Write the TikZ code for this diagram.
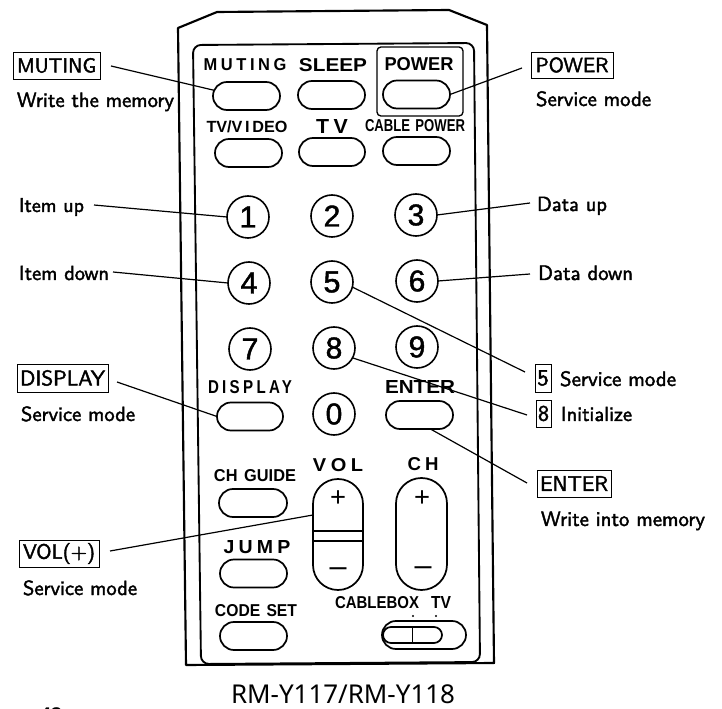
\documentclass[tikz,border=0pt]{standalone}
\usepackage{fontspec}
\usepackage{graphicx}
\usetikzlibrary{shapes.misc}
\setmainfont{Liberation Sans}
\newfontfamily\labf[FakeBold=2]{Latin Modern Sans}
\newfontfamily\btnb{Liberation Sans Bold}
\newfontfamily\btnsp[LetterSpace=22]{Liberation Sans Bold}
\newfontfamily\digf[FakeBold=1.4]{Liberation Sans}
\newfontfamily\capf{Noto Sans}
\newdimen\pxu \pxu=0.75pt
\newcommand{\fitw}[2]{\resizebox{#1\pxu}{!}{#2}}
\newcommand{\fith}[2]{\resizebox{!}{#1\pxu}{#2}}
\newcommand{\fitwh}[3]{\resizebox{#1\pxu}{#2\pxu}{#3}}
\tikzset{
  pxgrid/.style={x=0.75pt,y=-0.75pt},
  pill/.style={draw=black,rounded rectangle,line width=1.3pt,inner sep=0pt,outer sep=0pt,minimum width=#1*\pxu,minimum height=28*\pxu},
  keyc/.style={draw=black,circle,line width=1.2pt,inner sep=0pt,outer sep=0pt,minimum size=42*\pxu},
  btxt/.style={inner sep=0pt,outer sep=0pt,text=black,anchor=center},
  lab/.style={inner sep=0pt,outer sep=0pt,text=black,anchor=base west},
  lbox/.style={draw=black,line width=0.7pt,inner sep=0pt,outer sep=0pt,text=black,align=center},
  conn/.style={draw=black,line width=0.9pt},
  shell/.style={draw=black,line width=1.6pt,line join=round},
  rocker/.style={draw=black,rounded rectangle,rotate=90,line width=1.3pt,inner sep=0pt,outer sep=0pt},
}
\begin{document}
\begin{tikzpicture}[pxgrid]
\useasboundingbox (0,0) rectangle (722,709);
\clip (0,0) rectangle (722,709);
% body
\draw[shell] (178,28) -- (217,12) -- (449,10) -- (487,25) -- (494,663) -- (186,665) -- cycle;
\draw[shell,line width=1.4pt,rounded corners=6pt,fill=white] (193,45) -- (474,43) -- (480,662) -- (201,664) -- cycle;
\node[draw=black,line width=1pt,rounded corners=3pt,inner sep=0pt,outer sep=0pt,minimum width=86*\pxu,minimum height=69*\pxu] (powerbox) at (420,81.5) {};
% button labels
\node[btxt] (tmuting) at (245,65) {\fitwh{83}{12}{\btnsp MUTING}};
\node[btxt] (tsleep) at (333,65.5) {\fitwh{68}{13}{\btnb SLEEP}};
\node[btxt] (tpower) at (419,64) {\fitwh{69}{13}{\btnb POWER}};
\node[btxt] (ttvv) at (247,127) {\fitw{81}{\btnb TV/V\,I\,DEO}};
\node[btxt] (ttv) at (332,127) {\fitwh{32}{14}{\btnsp TV}};
\node[btxt] (tcable) at (415,126) {\fitwh{100}{12}{\btnb CABLE\hspace{0.4em}POWER}};
\node[btxt] (tdisplay) at (250,387) {\fitwh{84}{13}{\btnsp DISPLAY}};
\node[btxt] (tenter) at (420,387) {\fitwh{70}{13}{\btnb ENTER}};
\node[btxt] (tguide) at (255,476) {\fitwh{82}{12}{\btnb CH\hspace{0.4em}GUIDE}};
\node[btxt] (tvol) at (338,465) {\fitwh{50}{13}{\btnsp VOL}};
\node[btxt] (tch) at (423,464) {\fitwh{31}{13}{\btnsp CH}};
\node[btxt] (tjump) at (257,547) {\fitwh{67}{13}{\btnsp JUMP}};
\node[btxt] (tcode) at (256,611) {\fitwh{82}{12}{\btnb CODE\hspace{0.4em}SET}};
\node[btxt] (tbox) at (377,603) {\fitwh{84}{12}{\btnb CABLEBOX}};
\node[btxt] (ttvs) at (441,602) {\fitwh{20}{12}{\btnb TV}};
% pills
\node[pill=67] (bmuting) at (246.5,96) {};
\node[pill=67] (bsleep) at (331.5,95) {};
\node[pill=67] (bpower) at (416.5,94.5) {};
\node[pill=67] (btvv) at (248.5,153) {};
\node[pill=66] (btv) at (332,152) {};
\node[pill=67] (bcable) at (416.5,151) {};
\node[pill=66] (bdisplay) at (250,416.5) {};
\node[pill=67] (benter) at (419.5,415) {};
\node[pill=68] (bguide) at (253,503) {};
\node[pill=67] (bjump) at (253.5,573.5) {};
\node[pill=67] (bcode) at (253.5,636) {};
% number keys
\node[keyc] (k1) at (248,217) {\fith{21}{\digf 1}};
\node[keyc] (k2) at (332,216) {\fith{21}{\digf 2}};
\node[keyc] (k3) at (416,215) {\fith{21}{\digf 3}};
\node[keyc] (k4) at (249,283) {\fith{21}{\digf 4}};
\node[keyc] (k5) at (332,282) {\fith{21}{\digf 5}};
\node[keyc] (k6) at (417,281) {\fith{21}{\digf 6}};
\node[keyc] (k7) at (250,349) {\fith{21}{\digf 7}};
\node[keyc] (k8) at (334,348) {\fith{21}{\digf 8}};
\node[keyc] (k9) at (417,347) {\fith{21}{\digf 9}};
\node[keyc] (k0) at (334,414) {\fith{21}{\digf 0}};
% rockers
\node[rocker,minimum width=111*\pxu,minimum height=50*\pxu] (bvol) at (338,534.5) {};
\node[rocker,minimum width=112*\pxu,minimum height=51*\pxu] (bch) at (421.5,534) {};
\draw[black,line width=1.2pt] (313,531) -- (363,531) (313,541) -- (363,541);
\node[btxt] (vp) at (338,499) {\fitw{16}{+}};
\node[btxt] (vm) at (338,572) {\fitw{17}{\textendash}};
\node[btxt] (cp) at (422,499) {\fitw{16}{+}};
\node[btxt] (cm) at (423,571) {\fitw{17}{\textendash}};
% slide switch
\node[pill=84,minimum height=28*\pxu] (sw) at (424,635) {};
\node[pill=59,minimum height=16*\pxu] (swk) at (412.5,635) {};
\draw[black,line width=1.1pt] (swk.north) -- (swk.south);
\fill[black] (413,616) circle (1.2) (436,616) circle (1.2);
% free ends
\coordinate (emute) at (111,66);
\coordinate (epower) at (522,68);
\coordinate (eitemup) at (94,205);
\coordinate (eitemdn) at (113,272);
\coordinate (edataup) at (530,203);
\coordinate (edatadn) at (530,274);
\coordinate (efive) at (525,372);
\coordinate (eeight) at (527,415);
\coordinate (eenter) at (527,483);
\coordinate (edisp) at (117,382);
\coordinate (evol) at (110,551);
\coordinate (volhit) at (313,515);
% connectors
\draw[conn] (emute) -- (bmuting.170);
\draw[conn] (epower) -- (bpower.east);
\draw[conn] (eitemup) -- (k1.west);
\draw[conn] (eitemdn) -- (k4.west);
\draw[conn] (edataup) -- (k3.east);
\draw[conn] (edatadn) -- (k6.east);
\draw[conn] (efive) -- (k5.-14);
\draw[conn] (eeight) -- (k8.-28);
\draw[conn] (eenter) -- (benter.-52);
\draw[conn] (edisp) -- (bdisplay.west);
\draw[conn] (evol) -- (volhit);
% boxed labels
\node[lbox,minimum width=87*\pxu,minimum height=27*\pxu] (lmute) at (56.5,65.5) {\fitw{79}{\labf MUTING}};
\node[lbox,minimum width=82*\pxu,minimum height=26*\pxu] (lpower) at (572,65) {\fitw{73}{\labf POWER}};
\node[lbox,minimum width=91*\pxu,minimum height=28*\pxu] (ldisp) at (62.5,378) {\fitw{85}{\labf DISPLAY}};
\node[lbox,minimum width=80*\pxu,minimum height=27*\pxu] (lvol) at (59,553.5) {\fitw{72}{\labf VOL(+)}};
\node[lbox,minimum width=16*\pxu,minimum height=28*\pxu] (lfive) at (543,378) {\fith{15}{\labf 5}};
\node[lbox,minimum width=15*\pxu,minimum height=27*\pxu] (leight) at (543.5,413.5) {\fith{15}{\labf 8}};
\node[lbox,minimum width=74*\pxu,minimum height=27*\pxu] (lent) at (574,483.5) {\fitw{68}{\labf ENTER}};
% plain labels
\node[lab] (twrite) at (17,107) {\fitw{157}{\labf Write the memory}};
\node[lab] (tserp) at (536,106) {\fitw{115}{\labf Service mode}};
\node[lab] (titemup) at (19,212) {\fitw{65}{\labf Item up}};
\node[lab] (titemdn) at (19,280) {\fitw{90}{\labf Item down}};
\node[lab] (tdataup) at (537,211) {\fitw{70}{\labf Data up}};
\node[lab] (tdatadn) at (538,280) {\fitw{95}{\labf Data down}};
\node[lab] (tserd) at (21,421) {\fitw{114}{\labf Service mode}};
\node[lab] (tserv) at (23,595) {\fitw{114}{\labf Service mode}};
\node[lab] (tserf) at (560,386) {\fitw{116}{\labf Service mode}};
\node[lab] (tinit) at (561,421) {\fitw{71}{\labf Initialize}};
\node[lab] (twinto) at (541,526) {\fitw{164}{\labf Write into memory}};
\node[lab] (tmodel) at (231,703) {\fitw{224}{\capf RM-Y117/RM-Y118}};
\node[lab] (tpage) at (40,721) {\fitw{22}{\btnb 48}};
\end{tikzpicture}
\end{document}
